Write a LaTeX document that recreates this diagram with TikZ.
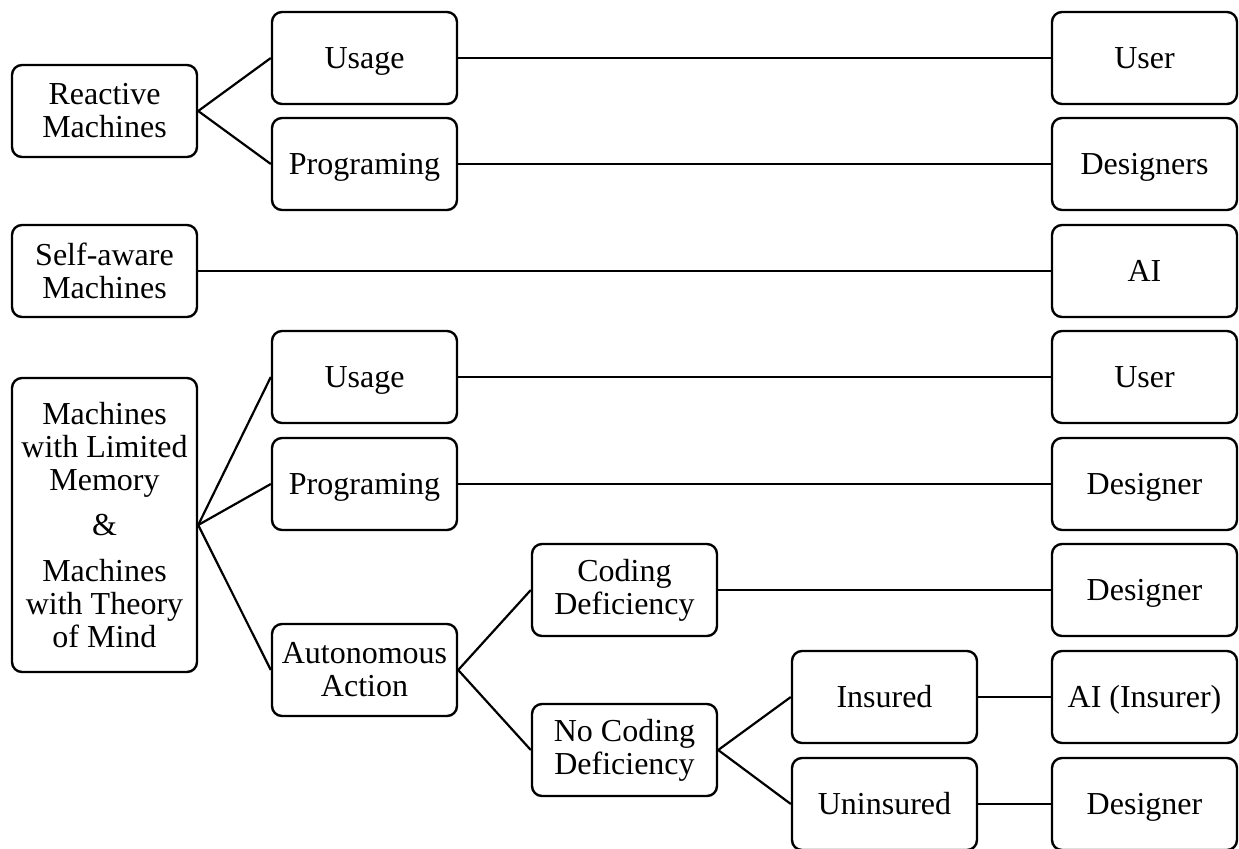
\documentclass[tikz,border=0pt]{standalone}
\usepackage{fontspec}
\setmainfont{Liberation Serif}
\begin{document}
\begin{tikzpicture}[x=0.5pt,y=-0.5pt,
  box/.style={draw,line width=1.2pt,rounded corners=5pt,minimum width=92.5pt,minimum height=46pt,inner sep=0pt,align=center,font=\fontsize{16}{16.5}\selectfont},
  one/.style={box,text height=12.3pt,text depth=1.7pt},
  link/.style={line width=1.1pt}]
\useasboundingbox (0,0) rectangle (1239,848);
% column 0
\node[box] (R) at (104.5,111) {Reactive\\Machines};
\node[box] (S) at (104.5,271) {Self-aware\\Machines};
\node[box,minimum height=147pt] (M) at (104.5,525) {Machines\\with Limited\\Memory\\[6pt]\&\\[6.5pt]Machines\\with Theory\\of Mind};
% column 1
\node[one] (U1) at (364.5,58) {Usage};
\node[one] (P1) at (364.5,164) {Programing};
\node[one] (U2) at (364.5,377) {Usage};
\node[one] (P2) at (364.5,484) {Programing};
\node[box] (A) at (364.5,670) {Autonomous\\Action};
% column 2
\node[box] (C) at (624.5,590) {Coding\\Deficiency};
\node[box] (N) at (624.5,750) {No Coding\\Deficiency};
% column 3
\node[one] (I) at (884.5,697) {Insured};
\node[one] (UN) at (884.5,804) {Uninsured};
% column 4
\node[one] (E1) at (1144.5,58) {User};
\node[one] (E2) at (1144.5,164) {Designers};
\node[one] (E3) at (1144.5,271) {AI};
\node[one] (E4) at (1144.5,377) {User};
\node[one] (E5) at (1144.5,484) {Designer};
\node[one] (E6) at (1144.5,590) {Designer};
\node[one] (E7) at (1144.5,697) {AI (Insurer)};
\node[one] (E8) at (1144.5,804) {Designer};
% connectors
\draw[link] (R.east) -- (U1.west);
\draw[link] (R.east) -- (P1.west);
\draw[link] (M.east) -- (U2.west);
\draw[link] (M.east) -- (P2.west);
\draw[link] (M.east) -- (A.west);
\draw[link] (A.east) -- (C.west);
\draw[link] (A.east) -- (N.west);
\draw[link] (N.east) -- (I.west);
\draw[link] (N.east) -- (UN.west);
\draw[link] (U1.east) -- (E1.west);
\draw[link] (P1.east) -- (E2.west);
\draw[link] (S.east) -- (E3.west);
\draw[link] (U2.east) -- (E4.west);
\draw[link] (P2.east) -- (E5.west);
\draw[link] (C.east) -- (E6.west);
\draw[link] (I.east) -- (E7.west);
\draw[link] (UN.east) -- (E8.west);
\end{tikzpicture}
\end{document}
